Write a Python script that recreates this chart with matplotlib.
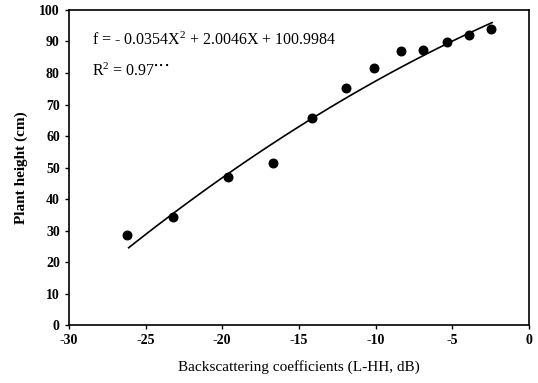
import numpy as np
import matplotlib
matplotlib.use('Agg')
import matplotlib.pyplot as plt

# backscattering (dB) vs plant height (cm)
backscatter = [-26.2, -23.2, -19.6, -16.7, -14.15, -11.95, -10.1, -8.36, -6.89, -5.36, -3.89, -2.47]
height = [28.5, 34.2, 47.1, 51.5, 65.7, 75.3, 81.6, 87.1, 87.2, 89.7, 92.1, 93.9]

# fitted quadratic from the chart text
coef = [-0.0354, 2.0046, 100.9984]
fit_range = [-26.1, -2.4]

plt.rcParams['font.family'] = ['Liberation Serif', 'DejaVu Serif']
plt.rcParams['mathtext.fontset'] = 'custom'
plt.rcParams['mathtext.rm'] = 'Liberation Serif'
plt.rcParams['mathtext.it'] = 'Liberation Serif'
plt.rcParams['axes.unicode_minus'] = False

fig = plt.figure(figsize=(5.38, 3.83), dpi=100)
ax = fig.add_axes([0.128, 0.151, 0.855, 0.823])

xs = np.linspace(fit_range[0], fit_range[1], 100)
ax.plot(xs, np.polyval(coef, xs), color='black', lw=1.2)
ax.scatter(backscatter, height, s=38, color='black', zorder=3)

ax.set_xlim(-30, 0)
ax.set_ylim(0, 100)
ax.set_xticks(range(-30, 1, 5))
ax.set_yticks(range(0, 101, 10))
ax.tick_params(direction='out', length=3, width=1, labelsize=10)
for lab in ax.get_xticklabels() + ax.get_yticklabels():
    lab.set_fontweight('bold')
for s in ax.spines.values():
    s.set_linewidth(1.2)

ax.set_xlabel('Backscattering coefficients (L-HH, dB)', fontsize=11, labelpad=9)
ax.set_ylabel('Plant height (cm)', fontsize=11, fontweight='bold', labelpad=8)

ax.text(0.05, 0.905, r'f = - 0.0354X$^\mathrm{2}$ + 2.0046X + 100.9984',
        transform=ax.transAxes, fontsize=11.5, va='center')
ax.text(0.05, 0.805, r'R$^\mathrm{2}$ = 0.97$^\mathbf{\cdot\!\cdot\!\cdot}$',
        transform=ax.transAxes, fontsize=11.5, va='center')

fig.savefig('out.png', dpi=100)
